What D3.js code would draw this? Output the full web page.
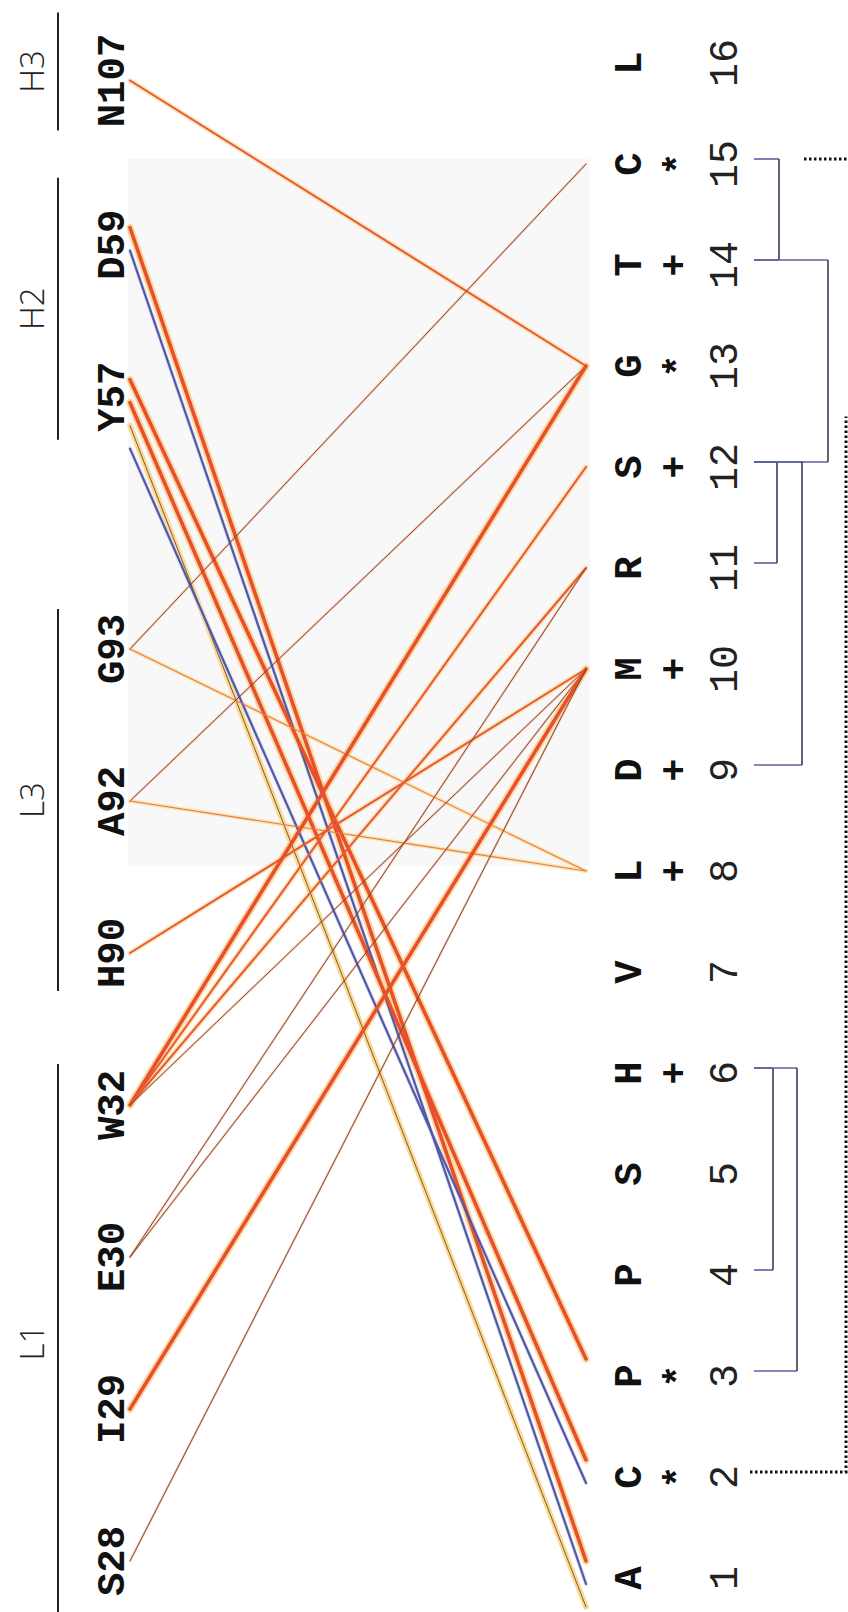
<!DOCTYPE html>
<html>
<head>
<meta charset="utf-8">
<script src="https://cdn.jsdelivr.net/npm/d3@7"></script>
<style>
  html, body { margin: 0; padding: 0; background: #fff; }
  svg { display: block; }
</style>
</head>
<body>
<svg id="chart" width="848" height="1612"></svg>
<script>
// ---- data -------------------------------------------------------------
// Antibody residues, listed from the bottom of the page to the top
const residues     = ["S28", "I29", "E30", "W32", "H90", "A92", "G93", "Y57", "D59", "N107"];
const residueGroup = ["L1",  "L1",  "L1",  "L1",  "L3",  "L3",  "L3",  "H2",  "H2",  "H3"];
const groups       = ["L1", "L3", "H2", "H3"];

// Peptide positions 1..16 with residue letter and conservation mark
const positions    = [1, 2, 3, 4, 5, 6, 7, 8, 9, 10, 11, 12, 13, 14, 15, 16];
const sequence     = ["A", "C", "P", "P", "S", "H", "V", "L", "D", "M", "R", "S", "G", "T", "C", "L"];
const conservation = ["",  "*", "*", "",  "",  "+", "",  "+", "+", "+", "",  "+", "*", "+", "*", ""];

// Contacts: residue -> peptide position, with contact class
const linkSource = ["N107", "D59", "D59", "Y57", "Y57", "Y57", "Y57", "G93", "G93", "A92", "A92", "H90",
                    "W32", "W32", "W32", "W32", "E30", "E30", "I29", "S28"];
const linkTarget = [13, 1, 1, 3, 2, 1, 2, 15, 8, 13, 8, 10,
                    13, 12, 11, 10, 11, 10, 10, 10];
const linkKind   = ["moderate", "major", "alt", "major", "major", "pale", "alt", "trace", "light", "trace", "light", "moderate",
                    "major", "moderate", "moderate", "trace", "trace", "trace", "major", "trace"];

// Clustering of peptide positions (pairs joined at a distance level)
const mergeA     = [15, 14, 12, 12, 6, 6];
const mergeB     = [14, 12, 11, 9, 4, 3];
const mergeLevel = [2.5, 7.4, 2.3, 4.8, 1.9, 4.3];
const outLeaf = 2, outLevel = 9.2, outJoin = 12.5;      // dotted outgroup link
const stubLeaf = 15, stubLevel = 5.0;                   // dotted stub leaving the panel

// ---- layout -------------------------------------------------------------
const svg = d3.select("#chart");
const W = 848, H = 1612;

const xLeft = 130, xRight = 586;
const seqY = d3.scaleLinear().domain([1, 16]).range([1578, 63]);
const slotY = d3.scaleLinear().domain([0, 1]).range([1561, 1409]);
const gapBefore = { H2: 0.66, H3: 0.08 };
// how far each group bar reaches past its first / last residue
const groupPad = { H3: [68, 50], H2: [67, 43], L3: [40, 38], L1: [41, 60] };

// slot index of each residue including gaps between CDR groups
const slotOf = {};
{
  let acc = 0, prev = null;
  residues.forEach((r, i) => {
    const g = residueGroup[i];
    if (prev !== null && g !== prev) acc += (gapBefore[g] || 0);
    slotOf[r] = i + acc;
    prev = g;
  });
}
const resY = r => slotY(slotOf[r]);

// faint backing panel
svg.append("rect")
  .attr("x", 128).attr("y", seqY(15.05)).attr("width", xRight + 4 - 128)
  .attr("height", seqY(8.05) - seqY(15.05))
  .attr("fill", "#f8f8f8");

// ---- links -------------------------------------------------------------
const links = linkSource.map((s, i) => ({ source: s, target: linkTarget[i], kind: linkKind[i] }));

// ends that fan out as parallel lanes instead of meeting in one point
const stackedSources = ["Y57", "D59"];
const stackedTargets = [1, 2, 3];
const laneStep = 23, laneBase = -17;
const srcCount = {}, tgtCount = {};
links.forEach(l => {
  if (stackedSources.includes(l.source)) {
    srcCount[l.source] = (srcCount[l.source] || 0);
    l.srcLane = srcCount[l.source]++;
  }
  if (stackedTargets.includes(l.target)) {
    tgtCount[l.target] = (tgtCount[l.target] || 0);
    l.tgtLane = tgtCount[l.target]++;
  }
});
links.forEach(l => {
  l.y1 = resY(l.source) + (l.srcLane !== undefined ? laneBase + l.srcLane * laneStep : 0);
  l.y2 = seqY(l.target) + (l.tgtLane !== undefined ? laneBase + l.tgtLane * laneStep : 0);
});

const style = {
  major:    { core: "#e6502f", cw: 3.6, halo: "#fbcf86", hw: 7.5, ho: 0.75 },
  moderate: { core: "#e65a36", cw: 2.0, halo: "#fcd797", hw: 5.0, ho: 0.7 },
  light:    { core: "#e57a4c", cw: 1.1, halo: "#fde0a2", hw: 4.0, ho: 0.85 },
  trace:    { core: "#74402f", cw: 0.9, halo: "#f3a57e", hw: 2.4, ho: 0.55 },
  alt:      { core: "#5158a5", cw: 2.2, halo: "#d9daef", hw: 4.2, ho: 0.7 },
  pale:     { core: "#5e3a28", cw: 0.8, halo: "#fbd584", hw: 5.5, ho: 0.9 }
};

const linkLayer = svg.append("g");
linkLayer.selectAll("line.halo").data(links).join("line")
  .attr("class", "halo")
  .attr("x1", xLeft).attr("y1", d => d.y1)
  .attr("x2", xRight).attr("y2", d => d.y2)
  .attr("stroke", d => style[d.kind].halo)
  .attr("stroke-opacity", d => style[d.kind].ho)
  .attr("stroke-width", d => style[d.kind].hw)
  .attr("stroke-linecap", "round");
linkLayer.selectAll("line.core").data(links).join("line")
  .attr("class", "core")
  .attr("x1", xLeft).attr("y1", d => d.y1)
  .attr("x2", xRight).attr("y2", d => d.y2)
  .attr("stroke", d => style[d.kind].core)
  .attr("stroke-width", d => style[d.kind].cw)
  .attr("stroke-linecap", "round");

// ---- left labels -------------------------------------------------------------
const mono = "'Liberation Mono', 'Courier New', monospace";
svg.append("g").selectAll("text").data(residues).join("text")
  .attr("transform", d => `translate(124,${resY(d)}) rotate(-90)`)
  .attr("text-anchor", "middle")
  .attr("font-family", mono)
  .attr("font-weight", "bold")
  .attr("font-size", 39)
  .attr("fill", "#111")
  .text(d => d);

// CDR group bars and names
const groupInfo = groups.map(g => {
  const ys = residues.filter((r, i) => residueGroup[i] === g).map(resY);
  return { name: g, top: d3.min(ys) - groupPad[g][0], bottom: d3.max(ys) + groupPad[g][1] };
});
const gl = svg.append("g");
gl.selectAll("line").data(groupInfo).join("line")
  .attr("x1", 58).attr("x2", 58)
  .attr("y1", d => d.top).attr("y2", d => d.bottom)
  .attr("stroke", "#222").attr("stroke-width", 2);
gl.selectAll("text").data(groupInfo).join("text")
  .attr("transform", d => `translate(44,${(d.bottom + d.top) / 2}) rotate(-90)`)
  .attr("text-anchor", "middle")
  .attr("font-family", "'Open Sans', 'Liberation Sans', Arial, sans-serif")
  .attr("font-weight", 300)
  .attr("font-size", 33)
  .attr("fill", "#222")
  .text(d => d.name);

// ---- right labels -------------------------------------------------------------
const right = svg.append("g");
right.selectAll("text.aa").data(positions).join("text")
  .attr("class", "aa")
  .attr("transform", d => `translate(641,${seqY(d)}) rotate(-90)`)
  .attr("text-anchor", "middle")
  .attr("font-family", mono).attr("font-weight", "bold")
  .attr("font-size", 39).attr("fill", "#111")
  .text((d, i) => sequence[i]);
right.selectAll("text.cons").data(positions.filter((d, i) => conservation[i])).join("text")
  .attr("class", "cons")
  .attr("transform", d => `translate(${conservation[d - 1] === "*" ? 690 : 686},${seqY(d)}) rotate(-90)`)
  .attr("text-anchor", "middle")
  .attr("font-family", mono).attr("font-weight", "bold")
  .attr("font-size", 38).attr("fill", "#111")
  .text(d => conservation[d - 1]);
right.selectAll("text.num").data(positions).join("text")
  .attr("class", "num")
  .attr("transform", d => `translate(737,${seqY(d)}) rotate(-90)`)
  .attr("text-anchor", "middle")
  .attr("font-family", mono)
  .attr("font-size", 40).attr("fill", "#222")
  .text(d => d);

// ---- dendrogram -------------------------------------------------------------
const levelX = d3.scaleLinear().domain([0, 10]).range([754, 854]);
const dend = svg.append("g");
const merges = mergeA.map((a, i) => ({ a, b: mergeB[i], level: mergeLevel[i] }));
merges.forEach(m => {
  [m.a, m.b].forEach(leaf => {
    dend.append("line")
      .attr("x1", levelX(0)).attr("x2", levelX(m.level))
      .attr("y1", seqY(leaf) - 5).attr("y2", seqY(leaf) - 5)
      .attr("stroke", "#5a60a0").attr("stroke-width", 1.6);
  });
  dend.append("line")
    .attr("x1", levelX(m.level)).attr("x2", levelX(m.level))
    .attr("y1", seqY(m.a) - 5).attr("y2", seqY(m.b) - 5)
    .attr("stroke", "#3a3c55").attr("stroke-width", 1.6);
});
const dotted = d3.line();
dend.append("path")
  .attr("d", dotted([[levelX(-0.4), seqY(outLeaf) - 5], [levelX(outLevel), seqY(outLeaf) - 5], [levelX(outLevel), seqY(outJoin)]]))
  .attr("fill", "none").attr("stroke", "#111").attr("stroke-width", 3)
  .attr("stroke-dasharray", "2.5,2.5");
dend.append("path")
  .attr("d", dotted([[levelX(stubLevel), seqY(stubLeaf) - 5], [W + 10, seqY(stubLeaf) - 5]]))
  .attr("fill", "none").attr("stroke", "#111").attr("stroke-width", 3)
  .attr("stroke-dasharray", "2.5,2.5");
</script>
</body>
</html>
